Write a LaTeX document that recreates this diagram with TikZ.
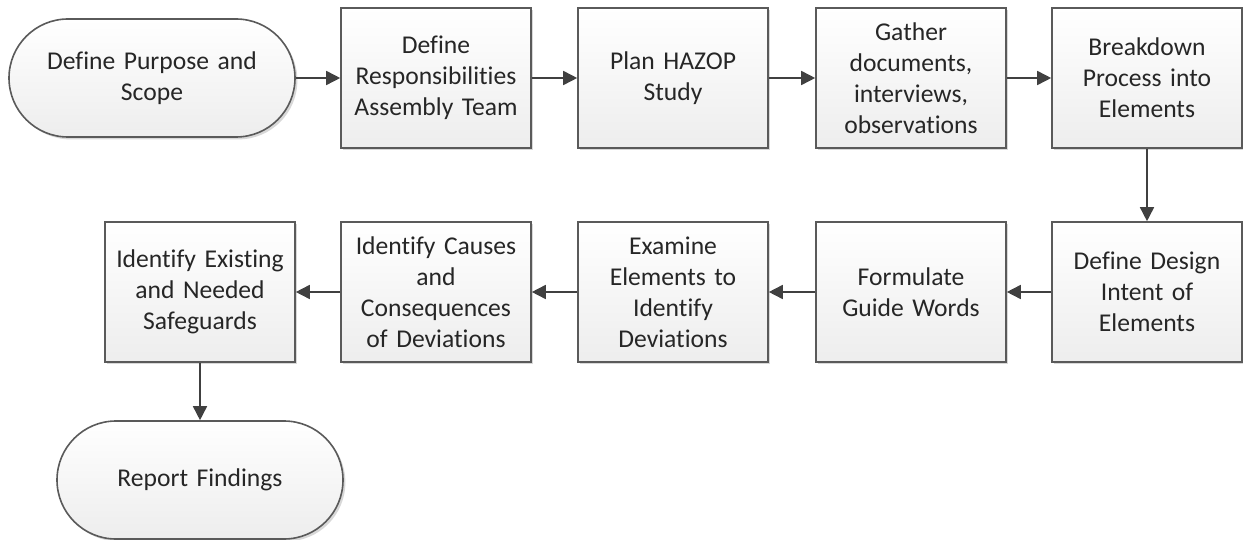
\documentclass[tikz,border=0pt]{standalone}
\usepackage{fontspec}
\setmainfont{Carlito}[Ligatures=NoCommon]
\usetikzlibrary{shapes.misc,shadows,arrows.meta}

\definecolor{boxline}{HTML}{5A5A5A}
\definecolor{arrowline}{HTML}{404040}
\definecolor{boxtext}{HTML}{262626}

\tikzset{
  stepbox/.style={draw=boxline, line width=0.8pt, top color=white, bottom color=gray!14,
    minimum width=95pt, minimum height=70pt, text width=92pt, align=center, inner sep=0pt,
    text=boxtext, font=\fontsize{12.8}{15.5}\selectfont,
    drop shadow={shadow xshift=1.2pt, shadow yshift=-1.2pt, fill=gray!60, opacity=0.5}},
  endbox/.style={stepbox, rounded rectangle, minimum width=143pt, minimum height=59pt,
    text width=120pt},
  flow/.style={draw=arrowline, line width=0.8pt, -{Triangle[length=7pt,width=7pt]}},
}

\begin{document}
\begin{tikzpicture}[x=0.5pt, y=-0.5pt]
  \useasboundingbox (0,0) rectangle (1243,540);

  % top row
  \node[endbox]  (purpose) at (152,78)  {Define Purpose and\\Scope};
  \node[stepbox] (team)    at (436,78)  {Define\\Responsibilities\\Assembly Team};
  \node[stepbox] (plan)    at (673,78)  {Plan HAZOP\\Study};
  \node[stepbox] (gather)  at (911,78)  {Gather\\documents,\\interviews,\\observations};
  \node[stepbox] (split)   at (1147,78) {Breakdown\\Process into\\Elements};

  % second row, right to left
  \node[stepbox] (intent)  at (1147,292) {Define Design\\Intent of\\Elements};
  \node[stepbox] (guide)   at (911,292)  {Formulate\\Guide Words};
  \node[stepbox] (examine) at (673,292)  {Examine\\Elements to\\Identify\\Deviations};
  \node[stepbox] (causes)  at (436,292)  {Identify Causes\\and\\Consequences\\of Deviations};
  \node[stepbox] (guards)  at (200,292)  {Identify Existing\\and Needed\\Safeguards};

  % end
  \node[endbox]  (report)  at (200,480) {Report Findings};

  \draw[flow] (purpose) -- (team);
  \draw[flow] (team) -- (plan);
  \draw[flow] (plan) -- (gather);
  \draw[flow] (gather) -- (split);
  \draw[flow] (split) -- (intent);
  \draw[flow] (intent) -- (guide);
  \draw[flow] (guide) -- (examine);
  \draw[flow] (examine) -- (causes);
  \draw[flow] (causes) -- (guards);
  \draw[flow] (guards) -- (report);
\end{tikzpicture}
\end{document}
